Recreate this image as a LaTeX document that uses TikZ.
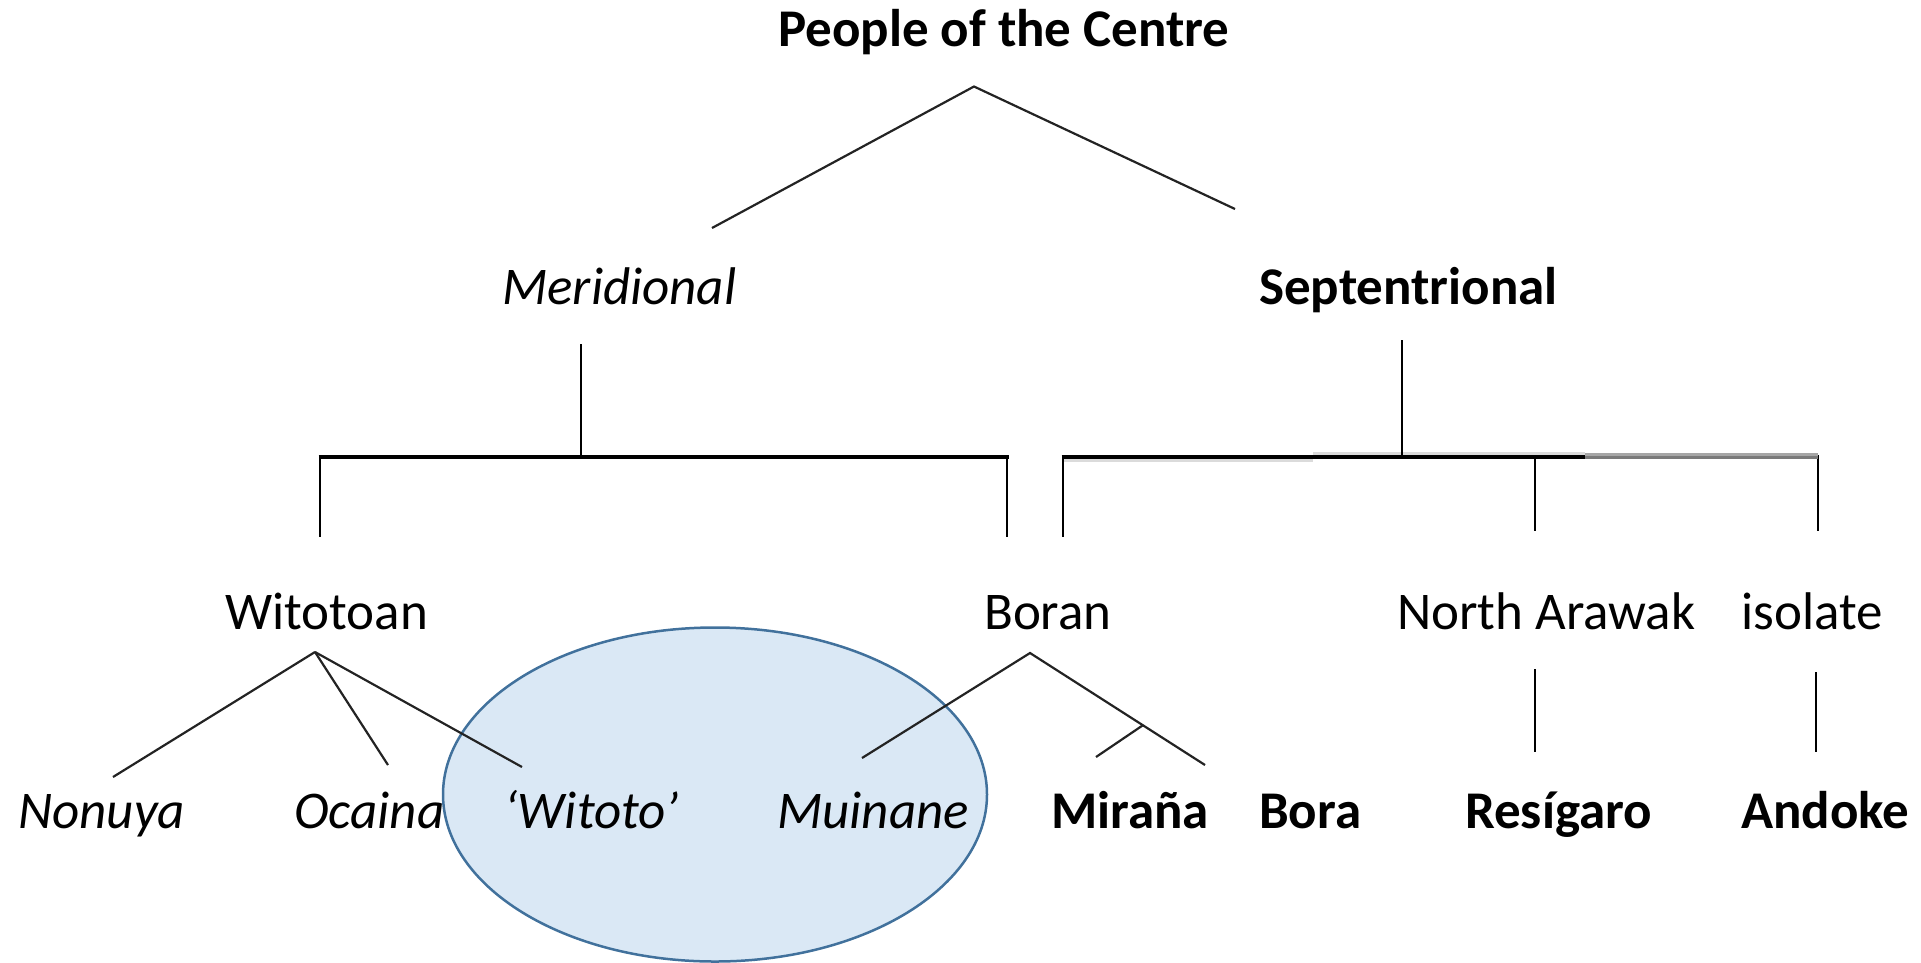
\documentclass[tikz,border=0pt]{standalone}
\usepackage{fontspec}
\setmainfont{Carlito}
\definecolor{ellfill}{RGB}{218,232,245}
\definecolor{elldraw}{RGB}{65,113,156}
\definecolor{diag}{RGB}{35,35,35}
\begin{document}
\begin{tikzpicture}[x=1pt,y=-1pt,
  lbl/.style={anchor=base west,inner sep=0pt,font=\fontsize{53}{60}\selectfont},
  itl/.style={lbl,font=\fontsize{53}{60}\selectfont\itshape},
  bfl/.style={lbl,font=\fontsize{53}{60}\selectfont\bfseries},
  diagline/.style={line width=2.2pt,draw=diag},
  vline/.style={line width=2.8pt,draw=black},
  barline/.style={line width=4.5pt,draw=black}]
\useasboundingbox (0,0) rectangle (1921,962);
% group ellipse
\path[fill=ellfill,draw=elldraw,line width=2.5pt] (715,794.5) ellipse [x radius=272pt, y radius=167pt];
% labels
\node[bfl] (people) at (778,46.5) {People of the Centre};
\node[itl] (merid) at (502,304) {Meridional};
\node[bfl] (sept) at (1259,304) {Septentrional};
\node[lbl] (witotoan) at (225,629) {Witotoan};
\node[lbl] (boran) at (984,629) {Boran};
\node[lbl] (narawak) at (1397,629) {North Arawak};
\node[lbl] (isolate) at (1741,629) {isolate};
\node[itl] (nonuya) at (18,828) {Nonuya};
\node[itl] (ocaina) at (294,828) {Ocaina};
\node[itl] (witoto) at (504,828) {‘Witoto’};
\node[itl] (muinane) at (777,828) {Muinane};
\node[bfl] (mirana) at (1051,828) {Miraña};
\node[bfl] (bora) at (1259,828) {Bora};
\node[bfl] (resigaro) at (1465,828) {Resígaro};
\node[bfl] (andoke) at (1741,828) {Andoke};
% junction coordinates
\coordinate (topapex) at (974,86.5);
\coordinate (meridup) at (712,228);
\coordinate (septup) at (1235,209);
\coordinate (meriddown) at (581,344);
\coordinate (meridbar) at (581,457);
\coordinate (mbarL) at (318.5,457);
\coordinate (mbarR) at (1009,457);
\coordinate (mvL) at (320,457);
\coordinate (mvR) at (1007,457);
\coordinate (witotoanup) at (320,537);
\coordinate (boranup) at (1007,537);
\coordinate (septdown) at (1402,340);
\coordinate (septbar) at (1402,457);
\coordinate (sbarL) at (1061.5,457);
\coordinate (svL) at (1063,457);
\coordinate (sbarM) at (1585,457);
\coordinate (sbarR) at (1818,457);
\coordinate (sboranup) at (1063,537);
\coordinate (svN) at (1535,455);
\coordinate (svI) at (1818,455);
\coordinate (narawakup) at (1535,531);
\coordinate (isolateup) at (1818,531);
\coordinate (witapex) at (315,652);
\coordinate (nonuyaup) at (113,777);
\coordinate (ocainaup) at (388,765);
\coordinate (witotoup) at (522,767);
\coordinate (borapex) at (1030,653);
\coordinate (muinaneup) at (862,758);
\coordinate (boraup) at (1205,765);
\coordinate (miranafork) at (1142.5,725.5);
\coordinate (miranaup) at (1096,757);
\coordinate (narawakdown) at (1535,669);
\coordinate (resigaroup) at (1535,752);
\coordinate (isolatedown) at (1816,672);
\coordinate (andokeup) at (1816,752);
% top split
\draw[diagline] (meridup) -- (topapex) -- (septup);
% Meridional bracket
\draw[vline] (meriddown) -- (meridbar);
\draw[vline] (mvL) -- (witotoanup);
\draw[vline] (mvR) -- (boranup);
\draw[barline] (mbarL) -- (mbarR);
% Septentrional bracket
\draw[line width=3pt,draw=black!14] (1061.5,460.5) -- (1313,460.5);
\draw[line width=3pt,draw=black!14] (1313,453.5) -- (1585,453.5);
\draw[vline] (septdown) -- (septbar);
\draw[vline] (svL) -- (sboranup);
\draw[vline] (svN) -- (narawakup);
\draw[vline] (svI) -- (isolateup);
\draw[line width=4pt,draw=black] (sbarL) -- (sbarM);
\draw[line width=3pt,draw=black!35] (1585,454) -- (1818,454);
\draw[line width=3pt,draw=black!52] (sbarM) -- (sbarR);
% Witotoan
\draw[diagline] (witapex) -- (nonuyaup);
\draw[diagline] (witapex) -- (ocainaup);
\draw[diagline] (witapex) -- (witotoup);
% Boran
\draw[diagline] (muinaneup) -- (borapex) -- (boraup);
\draw[diagline] (miranafork) -- (miranaup);
% North Arawak and isolate
\draw[vline] (narawakdown) -- (resigaroup);
\draw[vline] (isolatedown) -- (andokeup);
\end{tikzpicture}
\end{document}
